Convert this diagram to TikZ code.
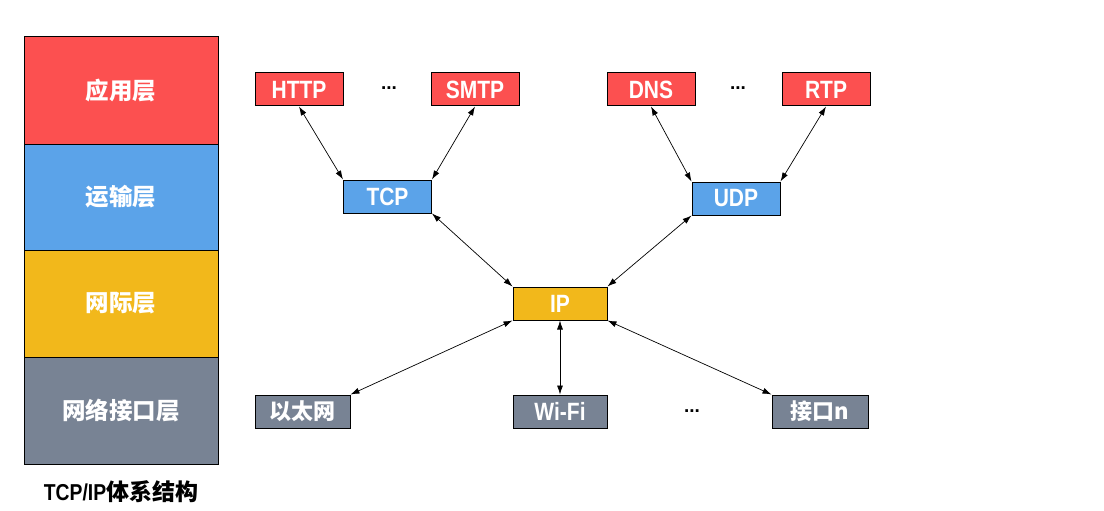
\documentclass[tikz,border=0pt]{standalone}
\usepackage{fontspec}
\usepackage{graphicx}
\setmainfont{Liberation Sans}
\newfontfamily\cjk{Noto Sans CJK SC}
\usetikzlibrary{arrows.meta}
\definecolor{appred}{HTML}{FC5050}
\definecolor{transblue}{HTML}{5BA3E9}
\definecolor{netyellow}{HTML}{F2B81B}
\definecolor{linkgray}{HTML}{788394}
\newcommand{\narrow}[1]{\scalebox{0.84}[1]{#1}}
\begin{document}
\begin{tikzpicture}[x=1pt,y=-1pt,
  layer/.style={draw=black,line width=1pt,rectangle,inner sep=0pt,
    minimum width=194pt,text=white,
    font=\cjk\bfseries\fontsize{23.5}{23.5}\selectfont},
  proto/.style={draw=black,line width=1pt,rectangle,inner sep=0pt,
    minimum width=88pt,minimum height=33pt,text=white,
    font=\bfseries\fontsize{25}{25}\selectfont},
  cjkproto/.style={proto,font=\cjk\bfseries\fontsize{22}{22}\selectfont},
  dots/.style={inner sep=0pt,font=\bfseries\fontsize{19}{19}\selectfont},
  link/.style={line width=0.7pt,{Latex[length=9pt,width=6pt]}-{Latex[length=9pt,width=6pt]}}
]
\useasboundingbox (0,0) rectangle (1104,511);

% layer column
\node[layer,fill=appred,minimum height=107pt] (la) at (121,90.5) {应用层};
\node[layer,fill=transblue,minimum height=106pt] (lt) at (121,197) {运输层};
\node[layer,fill=netyellow,minimum height=107pt] (ln) at (121,303.5) {网际层};
\node[layer,fill=linkgray,minimum height=107pt] (ll) at (121,410.5) {网络接口层};
\node[inner sep=0pt] (cap) at (121,492)
  {\fontsize{23}{23}\selectfont\bfseries\narrow{TCP/IP}{\cjk\bfseries 体系结构}};

% application layer
\node[proto,fill=appred] (http) at (299,89.5) {\narrow{HTTP}};
\node[dots] (d1) at (389,88) {...};
\node[proto,fill=appred] (smtp) at (475,89.5) {\narrow{SMTP}};
\node[proto,fill=appred] (dns) at (651,89.5) {\narrow{DNS}};
\node[dots] (d2) at (738,88) {...};
\node[proto,fill=appred] (rtp) at (826,89.5) {\narrow{RTP}};

% transport layer
\node[proto,fill=transblue] (tcp) at (387.5,196.5) {\narrow{TCP}};
\node[proto,fill=transblue] (udp) at (736,198.5) {\narrow{UDP}};

% internet layer
\node[proto,fill=netyellow,minimum width=94pt] (ip) at (560,303.5) {\narrow{IP}};

% link layer
\node[cjkproto,fill=linkgray,minimum width=95pt] (eth) at (302.5,411.5) {以太网};
\node[proto,fill=linkgray,minimum width=94pt] (wifi) at (560,411.5) {\narrow{Wi-Fi}};
\node[dots] (d3) at (692,411) {...};
\node[cjkproto,fill=linkgray,minimum width=96pt] (ifn) at (820,411.5) {接口n};

% connectors
\draw[link] (http.south) -- (tcp.north west);
\draw[link] (smtp.south) -- (tcp.north east);
\draw[link] (dns.south) -- (udp.north west);
\draw[link] (rtp.south) -- (udp.north east);
\draw[link] (tcp.south east) -- (ip.north west);
\draw[link] (udp.south west) -- (ip.north east);
\draw[link] (ip.south west) -- (eth.north east);
\draw[link] (ip.south) -- (wifi.north);
\draw[link] (ip.south east) -- (ifn.north west);
\end{tikzpicture}
\end{document}
